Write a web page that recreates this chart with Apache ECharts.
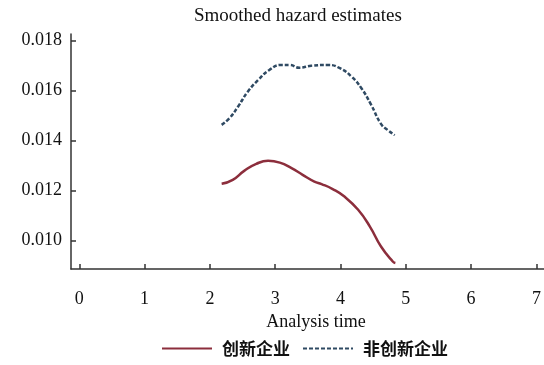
<!DOCTYPE html>
<html>
<head>
<meta charset="utf-8">
<script src="https://cdn.jsdelivr.net/npm/echarts@6/dist/echarts.min.js"></script>
<style>html,body{margin:0;padding:0;background:#fff}#c{width:544px;height:365px}</style>
</head>
<body>
<div id="c"></div>
<script>
var xTicks = [0, 1, 2, 3, 4, 5, 6, 7];
var yTicks = [0.010, 0.012, 0.014, 0.016, 0.018];
var innovX = [2.18, 2.35, 2.53, 2.71, 2.89, 3.07, 3.25, 3.42, 3.60, 3.71, 3.88, 4.06, 4.27, 4.45, 4.62, 4.80, 4.84];
var innovY = [0.01227, 0.01243, 0.01280, 0.01307, 0.01319, 0.01312, 0.01290, 0.01263, 0.01236, 0.01226, 0.01206, 0.01176, 0.01123, 0.01056, 0.00976, 0.00916, 0.00910];
var nonX = [2.18, 2.30, 2.43, 2.58, 2.74, 2.91, 3.09, 3.22, 3.37, 3.55, 3.81, 3.99, 4.17, 4.32, 4.47, 4.62, 4.72, 4.83];
var nonY = [0.01463, 0.01490, 0.01536, 0.01596, 0.01643, 0.01683, 0.01703, 0.01703, 0.01692, 0.01700, 0.01703, 0.01690, 0.01656, 0.01610, 0.01543, 0.01467, 0.01443, 0.01422];
var names = ['创新企业', '非创新企业'];

function pairs(xs, ys) { return xs.map(function (x, i) { return [x, ys[i]]; }); }

var chart = echarts.init(document.getElementById('c'));
var serif = '"Liberation Serif", "DejaVu Serif", serif';
chart.setOption({
  animation: false,
  backgroundColor: '#fff',
  title: {
    text: 'Smoothed hazard estimates',
    left: 189, top: 2,
    textStyle: { fontFamily: serif, fontSize: 19, fontWeight: 'normal', color: '#111' }
  },
  legend: {
    bottom: 3, left: 156,
    itemWidth: 50, itemHeight: 12, itemGap: 12,
    itemStyle: { opacity: 0 },
    textStyle: { fontFamily: '"Noto Sans CJK SC", sans-serif', fontSize: 17, fontWeight: 'bold', color: '#111', padding: [0, 0, 0, 5] },
    data: names
  },
  grid: { left: 71, right: 0, top: 34, bottom: 96, containLabel: false },
  xAxis: {
    type: 'value', min: -0.127, max: 7.116,
    name: 'Analysis time', nameLocation: 'middle', nameGap: 43,
    nameTextStyle: { fontFamily: serif, fontSize: 18, color: '#111', padding: [0, 0, 0, 17] },
    axisLine: { show: true, onZero: false, lineStyle: { color: '#333', width: 1.5 } },
    axisTick: { show: true, inside: true, length: 5, customValues: xTicks, lineStyle: { color: '#333', width: 1.5 } },
    axisLabel: { customValues: xTicks, margin: 21, fontFamily: serif, fontSize: 18, color: '#111' },
    splitLine: { show: false }
  },
  yAxis: {
    type: 'value', min: 0.00886, max: 0.01827,
    axisLine: { show: true, onZero: false, lineStyle: { color: '#333', width: 1.5 } },
    axisTick: { show: true, inside: true, length: 5, customValues: yTicks, lineStyle: { color: '#333', width: 1.5 } },
    axisLabel: { customValues: yTicks, margin: 9, fontFamily: serif, fontSize: 18, color: '#111',
      formatter: function (v) { return v.toFixed(3); } },
    splitLine: { show: false }
  },
  series: [
    { name: names[0], type: 'line', smooth: true, symbol: 'none', data: pairs(innovX, innovY),
      itemStyle: { color: '#8c2e3c' }, lineStyle: { color: '#8c2e3c', width: 2.5 } },
    { name: names[1], type: 'line', smooth: true, symbol: 'none', data: pairs(nonX, nonY),
      itemStyle: { color: '#2f4a63' }, lineStyle: { color: '#2f4a63', width: 2.5, type: [4, 2] } }
  ]
});
</script>
</body>
</html>
